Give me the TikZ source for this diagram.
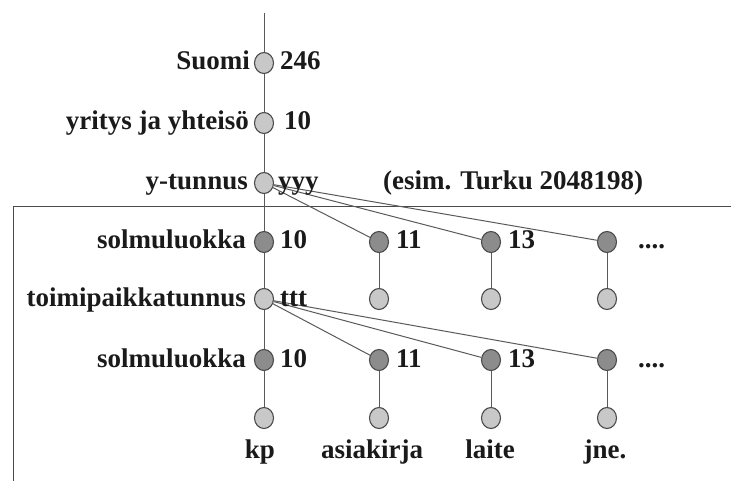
\documentclass[tikz,border=0pt]{standalone}
\usepackage{fontspec}
\setmainfont{Liberation Serif}
\usetikzlibrary{shapes.geometric}
\definecolor{lightfill}{HTML}{C8C8C8}
\definecolor{darkfill}{HTML}{8C8C8C}
\definecolor{rim}{HTML}{4A4A4A}
\definecolor{wire}{HTML}{5A5A5A}
\definecolor{ink}{HTML}{1A1A1A}
\begin{document}
\begin{tikzpicture}[x=1pt,y=-1pt,
  dot/.style={ellipse,draw=rim,line width=1.1pt,fill=lightfill,
    minimum width=19pt,minimum height=21pt,inner sep=0pt},
  darkdot/.style={dot,fill=darkfill},
  wirel/.style={draw=wire,line width=1pt},
  frame/.style={draw=rim,line width=1pt},
  txt/.style={text=ink,inner sep=0pt,
    font=\fontsize{27}{32}\selectfont\bfseries},
  lft/.style={txt,anchor=base east},
  rgt/.style={txt,anchor=base west},
  bot/.style={txt,anchor=base}]
\useasboundingbox (0,0) rectangle (731,481);
\fill[white] (0,0) rectangle (731,481);

% frame round the lower part
\coordinate (fr) at (731,207);
\coordinate (fc) at (13,207);
\coordinate (fb) at (13,481);
\draw[frame] (fr) -- (fc) -- (fb);

% main column
\coordinate (top) at (264,13);
\node[dot]     (suomi) at (264,63)  {};
\node[dot]     (yri)   at (264,123) {};
\node[dot]     (ytu)   at (264,183) {};
\node[darkdot] (s1a)   at (264,242) {};
\node[dot]     (toi)   at (264,299) {};
\node[darkdot] (s2a)   at (264,360) {};
\node[dot]     (ba)    at (264,418) {};

% further columns
\node[darkdot] (s1b) at (379,242) {};
\node[darkdot] (s1c) at (491,242) {};
\node[darkdot] (s1d) at (607,242) {};
\node[dot]     (tb)  at (379,299) {};
\node[dot]     (tc)  at (491,299) {};
\node[dot]     (td)  at (607,299) {};
\node[darkdot] (s2b) at (379,360) {};
\node[darkdot] (s2c) at (491,360) {};
\node[darkdot] (s2d) at (607,360) {};
\node[dot]     (bb)  at (379,418) {};
\node[dot]     (bc)  at (491,418) {};
\node[dot]     (bd)  at (607,418) {};

% connectors
\draw[wirel] (top) -- (suomi) -- (yri) -- (ytu) -- (s1a) -- (toi) -- (s2a) -- (ba);
\draw[wirel] (ytu) -- (s1b);
\draw[wirel] (ytu) -- (s1c);
\draw[wirel] (ytu) -- (s1d);
\draw[wirel] (s1b) -- (tb);
\draw[wirel] (s1c) -- (tc);
\draw[wirel] (s1d) -- (td);
\draw[wirel] (toi) -- (s2b);
\draw[wirel] (toi) -- (s2c);
\draw[wirel] (toi) -- (s2d);
\draw[wirel] (s2b) -- (bb);
\draw[wirel] (s2c) -- (bc);
\draw[wirel] (s2d) -- (bd);

% left labels
\node[lft] (l1) at (250,70)  {Suomi};
\node[lft] (l2) at (249,130) {yritys ja yhteisö};
\node[lft] (l3) at (248,190) {y-tunnus};
\node[lft] (l4) at (246,249) {solmuluokka};
\node[lft] (l5) at (246,306) {toimipaikkatunnus};
\node[lft] (l6) at (246,367) {solmuluokka};

% right labels
\node[rgt] (r1) at (280,70)  {246};
\node[rgt] (r2) at (284,130) {10};
\node[rgt] (r3) at (278,190) {yyy};
\node[rgt] (r3x) at (383,190) {(esim. Turku 2048198)};
\node[rgt] (r4) at (280,249) {10};
\node[rgt] (r5) at (280,306) {ttt};
\node[rgt] (r6) at (280,367) {10};
\node[rgt] (c1) at (396,249) {11};
\node[rgt] (c2) at (508,249) {13};
\node[rgt] (c3) at (638,249) {....};
\node[rgt] (c4) at (396,367) {11};
\node[rgt] (c5) at (508,367) {13};
\node[rgt] (c6) at (638,367) {....};

% bottom labels
\node[bot] (k1) at (260,458) {kp};
\node[bot] (k2) at (372,458) {asiakirja};
\node[bot] (k3) at (490,458) {laite};
\node[bot] (k4) at (605,458) {jne.};
\end{tikzpicture}
\end{document}
